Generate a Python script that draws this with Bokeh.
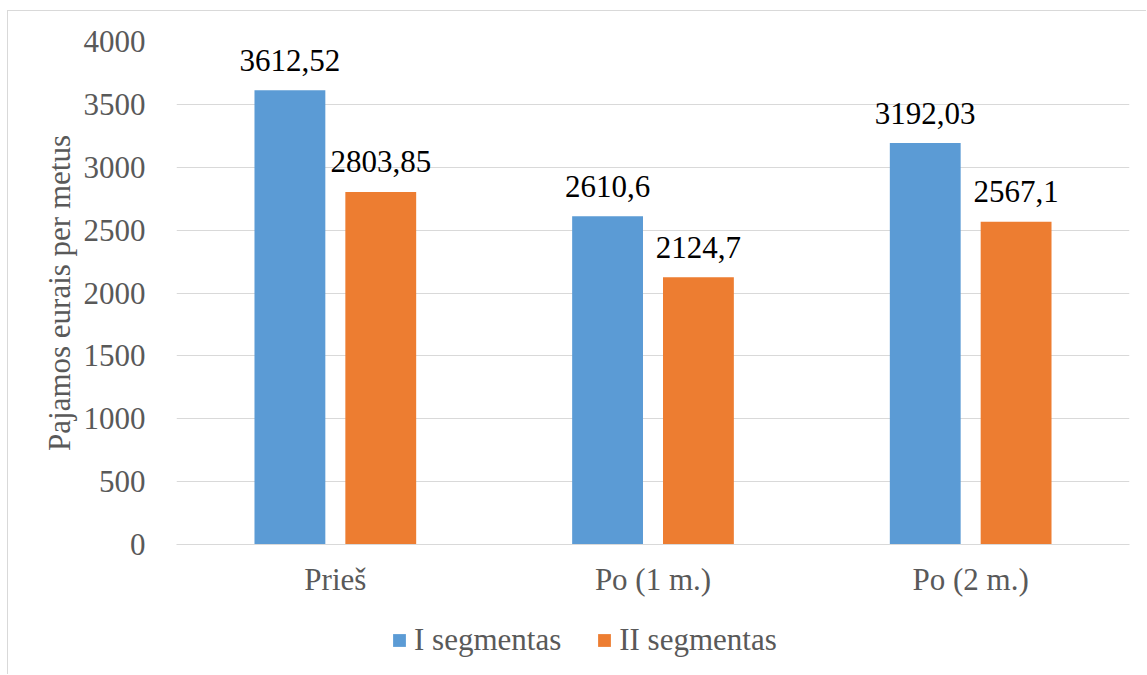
from bokeh.plotting import figure
from bokeh.layouts import column
from bokeh.models import ColumnDataSource, FactorRange, Legend, LegendItem, SingleIntervalTicker
from bokeh.transform import dodge
from bokeh.core.properties import value
from bokeh.embed import file_html
from bokeh.resources import INLINE

categories = ["Prieš", "Po (1 m.)", "Po (2 m.)"]
series_names = ["I segmentas", "II segmentas"]
seg1 = [3612.52, 2610.6, 3192.03]
seg2 = [2803.85, 2124.7, 2567.1]
y_ticks = [0, 500, 1000, 1500, 2000, 2500, 3000, 3500, 4000]
y_title = "Pajamos eurais per metus"

BLUE = "#5B9BD5"
ORANGE = "#ED7D31"
GRAY = "#595959"
GRID = "#D9D9D9"
FONT = "Liberation Serif"

src = ColumnDataSource(dict(
    cat=categories,
    s1=seg1,
    s2=seg2,
    l1=[str(v).replace(".", ",") for v in seg1],
    l2=[str(v).replace(".", ",") for v in seg2],
))

W = 1138
H_MAIN = 590
H_LEG = 73

p = figure(
    x_range=FactorRange(*categories, range_padding=0),
    y_range=(0, 4000),
    width=W, height=H_MAIN,
    output_backend="svg", toolbar_location=None,
    min_border_left=168, min_border_right=17, min_border_top=30, min_border_bottom=57,
)

off = 0.143
bw = 0.223
p.vbar(x=dodge("cat", -off, range=p.x_range), top="s1", width=bw, source=src,
       fill_color=BLUE, line_color=None)
p.vbar(x=dodge("cat", off, range=p.x_range), top="s2", width=bw, source=src,
       fill_color=ORANGE, line_color=None)

p.text(x=dodge("cat", -off, range=p.x_range), y="s1", text="l1", source=src,
       text_align="center", text_baseline="alphabetic", y_offset=-30,
       text_font=value(FONT), text_font_size="31px", text_color="black")
p.text(x=dodge("cat", off, range=p.x_range), y="s2", text="l2", source=src,
       text_align="center", text_baseline="alphabetic", y_offset=-30,
       text_font=value(FONT), text_font_size="31px", text_color="black")

p.outline_line_color = None
p.background_fill_color = "white"
p.border_fill_color = "white"

p.xgrid.grid_line_color = None
p.ygrid.grid_line_color = GRID
p.ygrid.grid_line_width = 1
p.ygrid.ticker = SingleIntervalTicker(interval=500)

p.yaxis.ticker = y_ticks
p.yaxis.axis_line_color = None
p.yaxis.major_tick_line_color = None
p.yaxis.minor_tick_line_color = None
p.yaxis.major_tick_in = 0
p.yaxis.major_tick_out = 0
p.yaxis.major_label_text_font = FONT
p.yaxis.major_label_text_font_size = "31px"
p.yaxis.major_label_text_color = GRAY
p.yaxis.major_label_standoff = 31
p.yaxis.axis_label = y_title
p.yaxis.axis_label_text_font = FONT
p.yaxis.axis_label_text_font_size = "31px"
p.yaxis.axis_label_text_font_style = "normal"
p.yaxis.axis_label_text_color = GRAY
p.yaxis.axis_label_standoff = 4

p.xaxis.axis_line_color = GRID
p.xaxis.major_tick_line_color = None
p.xaxis.minor_tick_line_color = None
p.xaxis.major_tick_in = 0
p.xaxis.major_tick_out = 0
p.xaxis.major_label_text_font = FONT
p.xaxis.major_label_text_font_size = "31px"
p.xaxis.major_label_text_color = GRAY
p.xaxis.major_label_standoff = 17

# legend strip below the chart (key swatches lie outside its visible range)
pl = figure(
    x_range=(0, 1), y_range=(0, 1),
    width=W, height=H_LEG,
    output_backend="svg", toolbar_location=None,
    min_border_left=0, min_border_right=0, min_border_top=0, min_border_bottom=0,
    x_axis_location=None, y_axis_location=None,
)
pl.grid.visible = False
pl.outline_line_color = None
pl.border_fill_color = "white"
k1 = pl.vbar(x=[-5], top=[0], width=0.1, fill_color=BLUE, line_color=None)
k2 = pl.vbar(x=[-5], top=[0], width=0.1, fill_color=ORANGE, line_color=None)
legend = Legend(
    items=[LegendItem(label=series_names[0], renderers=[k1]),
           LegendItem(label=series_names[1], renderers=[k2])],
    orientation="horizontal",
    location=(215, 16),
    label_text_font=FONT, label_text_font_size="31px", label_text_color=GRAY,
    glyph_width=16, glyph_height=16, label_standoff=7, spacing=35,
    padding=0, margin=0, border_line_color=None, background_fill_alpha=0,
)
pl.add_layout(legend, "center")

layout = column(
    p, pl, spacing=0,
    styles={"position": "relative", "left": "7px", "top": "10px",
            "border-left": "1px solid #D9D9D9", "border-top": "1px solid #D9D9D9"},
)

open("out.html", "w").write(file_html(layout, INLINE))
